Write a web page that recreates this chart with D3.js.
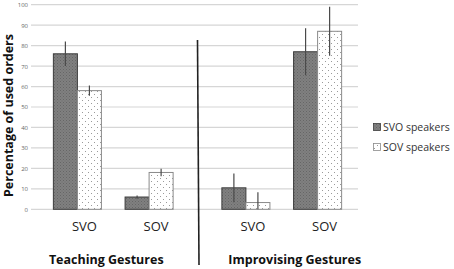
<!DOCTYPE html>
<html>
<head>
<meta charset="utf-8">
<script src="https://cdn.jsdelivr.net/npm/d3@7"></script>
<style>
  body { margin: 0; background: #fff; }
  svg { display: block; font-family: "Open Sans", sans-serif; }
</style>
</head>
<body>
<svg id="chart" width="454" height="269"></svg>
<script>
// Chart data
const groups = ['Teaching Gestures', 'Improvising Gestures'];
const orders = ['SVO', 'SOV'];
const speakers = ['SVO speakers', 'SOV speakers'];
// means per group x order: [T-SVO, T-SOV, I-SVO, I-SOV]
const svoSpeakerMeans = [76, 6, 10.5, 77];
const sovSpeakerMeans = [58, 18, 3.3, 87];
const svoSpeakerErr = [6, 0.8, 7, 11.5];
const sovSpeakerErr = [2.5, 1.8, 5, 12];
const yTicks = [0, 10, 20, 30, 40, 50, 60, 70, 80, 90, 100];

const svg = d3.select('#chart');
const defs = svg.append('defs');

// dark textured fill
const dark = defs.append('pattern')
    .attr('id', 'darkFill')
    .attr('patternUnits', 'userSpaceOnUse')
    .attr('width', 3).attr('height', 3);
dark.append('rect').attr('width', 3).attr('height', 3).attr('fill', '#808080');
dark.append('rect').attr('x', 0).attr('y', 0).attr('width', 1).attr('height', 1).attr('fill', '#666');
dark.append('rect').attr('x', 1.5).attr('y', 1.5).attr('width', 1).attr('height', 1).attr('fill', '#6c6c6c');

// dotted fill
const dots = defs.append('pattern')
    .attr('id', 'dotFill')
    .attr('patternUnits', 'userSpaceOnUse')
    .attr('width', 6).attr('height', 6);
dots.append('rect').attr('width', 6).attr('height', 6).attr('fill', '#fff');
dots.append('rect').attr('x', 1).attr('y', 1).attr('width', 1).attr('height', 1).attr('fill', '#9a9a9a');
dots.append('rect').attr('x', 4).attr('y', 4).attr('width', 1).attr('height', 1).attr('fill', '#9a9a9a');

const fills = ['url(#darkFill)', 'url(#dotFill)'];
const strokes = ['#3c3c3c', '#8a8a8a'];

// Scales
const y = d3.scaleLinear().domain([0, 100]).range([209.3, 4.7]);
const xGroup = d3.scaleBand().domain(groups).range([29, 366]).padding(0);
const xOrder = d3.scaleBand().domain(orders).range([0, xGroup.bandwidth()])
    .paddingInner(0.33).paddingOuter(0.34);
const xSpeaker = d3.scaleBand().domain(speakers).range([0, xOrder.bandwidth()]).padding(0);

// Gridlines
const gridLeft = 31, gridRight = 358;
svg.append('g')
    .selectAll('line')
    .data(yTicks)
    .join('line')
    .attr('x1', gridLeft)
    .attr('x2', gridRight)
    .attr('y1', d => y(d))
    .attr('y2', d => y(d))
    .attr('stroke', '#d6d6d6')
    .attr('stroke-width', 1.2);

// Y axis labels
const yAxis = d3.axisLeft(y).tickValues(yTicks).tickSize(0).tickPadding(0);
svg.append('g')
    .attr('transform', 'translate(28,0)')
    .call(yAxis)
    .call(g => g.select('.domain').remove())
    .call(g => g.selectAll('text')
        .attr('font-size', 6)
        .attr('font-family', '"Open Sans", sans-serif')
        .attr('fill', '#666'));

// Bars
const rows = [];
groups.forEach((g, gi) => {
    orders.forEach((o, oi) => {
        const i = gi * orders.length + oi;
        rows.push({ group: g, order: o, speaker: speakers[0], si: 0, value: svoSpeakerMeans[i], err: svoSpeakerErr[i] });
        rows.push({ group: g, order: o, speaker: speakers[1], si: 1, value: sovSpeakerMeans[i], err: sovSpeakerErr[i] });
    });
});
const barX = d => xGroup(d.group) + xOrder(d.order) + xSpeaker(d.speaker);

svg.append('g')
    .selectAll('rect')
    .data(rows)
    .join('rect')
    .attr('x', d => barX(d))
    .attr('y', d => y(d.value))
    .attr('width', xSpeaker.bandwidth())
    .attr('height', d => y(0) - y(d.value))
    .attr('fill', d => fills[d.si])
    .attr('stroke', d => strokes[d.si])
    .attr('stroke-width', 1);

// Error bars
svg.append('g')
    .selectAll('line')
    .data(rows)
    .join('line')
    .attr('x1', d => barX(d) + xSpeaker.bandwidth() / 2)
    .attr('x2', d => barX(d) + xSpeaker.bandwidth() / 2)
    .attr('y1', d => y(d.value + d.err))
    .attr('y2', d => y(Math.max(0, d.value - d.err)))
    .attr('stroke', '#4a4a4a')
    .attr('stroke-width', 1.2);

// Category labels
const catLabels = [];
groups.forEach(g => orders.forEach(o => catLabels.push({ group: g, order: o })));
svg.append('g')
    .selectAll('text')
    .data(catLabels)
    .join('text')
    .attr('x', d => xGroup(d.group) + xOrder(d.order) + xOrder.bandwidth() / 2 + 7)
    .attr('y', 231)
    .attr('text-anchor', 'middle')
    .attr('font-size', 13)
    .attr('fill', '#222')
    .text(d => d.order);

// Group labels
svg.append('g')
    .selectAll('text')
    .data(groups)
    .join('text')
    .attr('x', (d, i) => xGroup(d) + xGroup.bandwidth() / 2 + (i === 0 ? -7 : 13))
    .attr('y', 264)
    .attr('text-anchor', 'middle')
    .attr('font-size', 12.5)
    .attr('font-weight', 'bold')
    .attr('fill', '#111')
    .text(d => d);

// Divider between groups
const divX = xGroup(groups[1]);
svg.append('line')
    .attr('x1', divX).attr('x2', divX + 1.5)
    .attr('y1', 40).attr('y2', 265)
    .attr('stroke', '#222')
    .attr('stroke-width', 1.6);

// Y axis title
svg.append('text')
    .attr('transform', 'translate(13,115.5) rotate(-90)')
    .attr('text-anchor', 'middle')
    .attr('font-size', 12.5)
    .attr('font-weight', 'bold')
    .attr('fill', '#111')
    .text('Percentage of used orders');

// Legend
const legend = svg.append('g').attr('transform', 'translate(373,127)');
const legendItems = legend.selectAll('g')
    .data(speakers)
    .join('g')
    .attr('transform', (d, i) => `translate(0,${i * 20})`);
legendItems.append('rect')
    .attr('x', 0.5).attr('y', -3.5)
    .attr('width', 7).attr('height', 7)
    .attr('fill', (d, i) => fills[i])
    .attr('stroke', (d, i) => strokes[i])
    .attr('stroke-width', 0.8);
legendItems.append('text')
    .attr('x', 10)
    .attr('y', 0)
    .attr('dy', '0.35em')
    .attr('font-size', 10.5)
    .attr('fill', '#333')
    .text(d => d);
</script>
</body>
</html>
